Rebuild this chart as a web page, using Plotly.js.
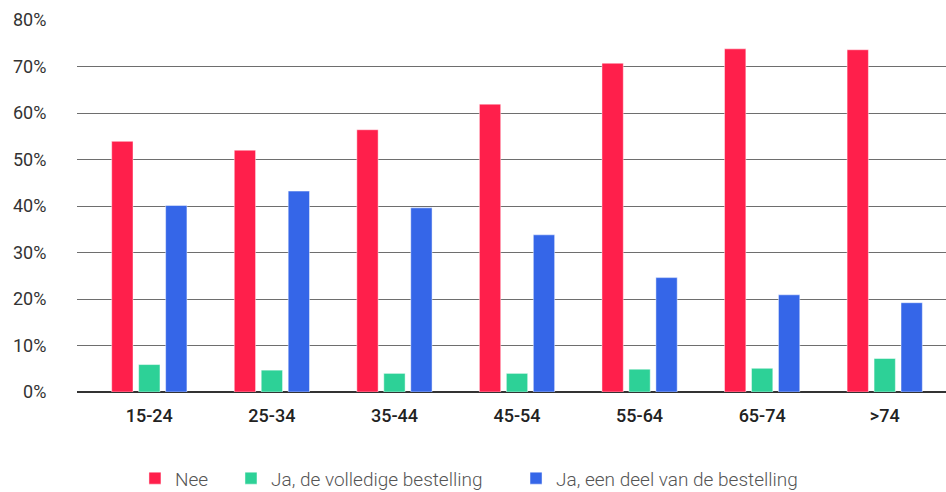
<!DOCTYPE html>
<html>
<head>
<meta charset="utf-8">
<script src="https://cdn.plot.ly/plotly-3.0.1.min.js"></script>
<style>html,body{margin:0;padding:0;background:#fff;}#chart{width:946px;height:492px;}</style>
</head>
<body>
<div id="chart"></div>
<script>
const categories = ["15-24", "25-34", "35-44", "45-54", "55-64", "65-74", ">74"];
const nee = [53.9, 52.0, 56.4, 61.9, 70.7, 73.8, 73.6];
const jaVolledig = [5.9, 4.7, 4.0, 4.0, 4.9, 5.1, 7.2];
const jaDeel = [40.1, 43.2, 39.6, 33.8, 24.6, 20.9, 19.2];
const seriesNames = ["Nee", "Ja, de volledige bestelling", "Ja, een deel van de bestelling"];
const colors = ["#FF1F4B", "#2DD197", "#3566E8"];
const yTicks = [0, 10, 20, 30, 40, 50, 60, 70, 80];

const font = "Roboto, 'Noto Sans', sans-serif";
const legendIds = ["legend", "legend2", "legend3"];
const legendX = [0.0667, 0.1772, 0.5052];

const data = [nee, jaVolledig, jaDeel].map((vals, i) => ({
  type: "bar",
  x: categories,
  y: vals,
  name: seriesNames[i],
  legend: legendIds[i],
  marker: {color: colors[i], line: {color: "rgba(255,255,255,0.45)", width: 1}},
  hoverinfo: "x+y+name"
}));

const layout = {
  width: 946, height: 492,
  margin: {l: 77, r: 0, t: 20, b: 100, pad: 0, autoexpand: false},
  paper_bgcolor: "#fff", plot_bgcolor: "#fff",
  font: {family: font, size: 18, color: "#333"},
  barmode: "group",
  bargap: 0.34,
  bargroupgap: 0.21,
  showlegend: true,
  xaxis: {
    type: "category",
    range: [-0.59, 6.5],
    showgrid: false, zeroline: false, showline: false,
    ticks: "outside", ticklen: 7, tickcolor: "rgba(0,0,0,0)",
    tickfont: {family: font, size: 18, color: "#222", weight: 500},
    fixedrange: true
  },
  yaxis: {
    range: [0, 80],
    tickvals: yTicks,
    ticktext: yTicks.map(v => v + "%"),
    showgrid: true, gridcolor: "#6e6e6e", gridwidth: 1,
    zeroline: true, zerolinecolor: "#333", zerolinewidth: 1.5,
    showline: false,
    ticks: "outside", ticklen: 26, tickcolor: "rgba(0,0,0,0)",
    tickfont: {family: font, size: 18, color: "#333"},
    fixedrange: true
  }
};
legendIds.forEach((id, i) => {
  layout[id] = {
    orientation: "h", x: legendX[i], xanchor: "left", y: -0.232, yanchor: "middle",
    font: {family: font, size: 19, color: "#555", weight: 300},
    itemwidth: 30, bgcolor: "rgba(0,0,0,0)"
  };
});

Plotly.newPlot("chart", data, layout, {displayModeBar: false, staticPlot: true});
</script>
</body>
</html>
